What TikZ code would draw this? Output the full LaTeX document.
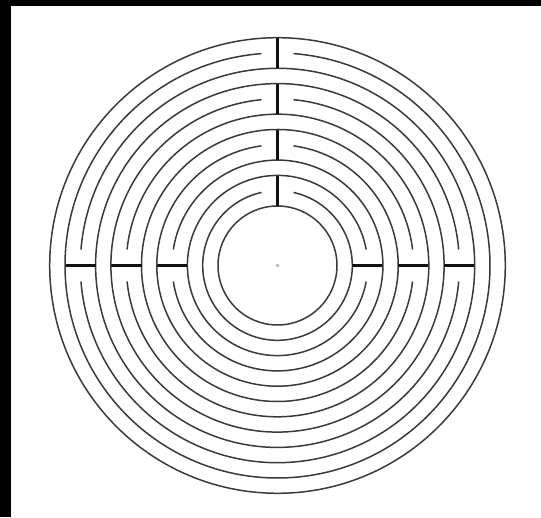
\documentclass[tikz,border=0pt]{standalone}
\usetikzlibrary{positioning,calc}
\definecolor{wallgray}{HTML}{3A3A3A}
\definecolor{gateblack}{HTML}{111111}
\definecolor{dotgray}{HTML}{B4B4B4}
\tikzset{wall/.style={draw=wallgray,line width=1.5pt},
  gate/.style={draw=gateblack,line width=2.6pt}}

\begin{document}
\begin{tikzpicture}[x=1pt,y=1pt]
\useasboundingbox (0,0) rectangle (541,517);
\fill[white] (0,0) rectangle (541,517);
\fill[black] (0,0) rectangle (11,517);
\fill[black] (0,511) rectangle (541,517);
\coordinate (c) at (277.5,251.5);
% inner and outer rings
\draw[wall] (c) circle[radius=59.5];
\draw[wall] (c) circle[radius=227.8];
% broken rings and their gates
\foreach \k/\a in {1/90,2/0,3/180,4/90,5/0,6/180,7/90,8/0,9/180,10/90}{
  \pgfmathsetmacro{\r}{59.5+15.3*\k}
  \pgfmathsetmacro{\g}{asin(16/\r)}
  \draw[wall] ($(c)+(\a+\g:\r)$) arc[start angle=\a+\g, end angle=\a+360-\g, radius=\r];
  \draw[gate] ($(c)+(\a:\r-15.3)$) -- ($(c)+(\a:\r+15.3)$);
}
\fill[dotgray] (c) circle[radius=1.8];
\end{tikzpicture}
\end{document}
